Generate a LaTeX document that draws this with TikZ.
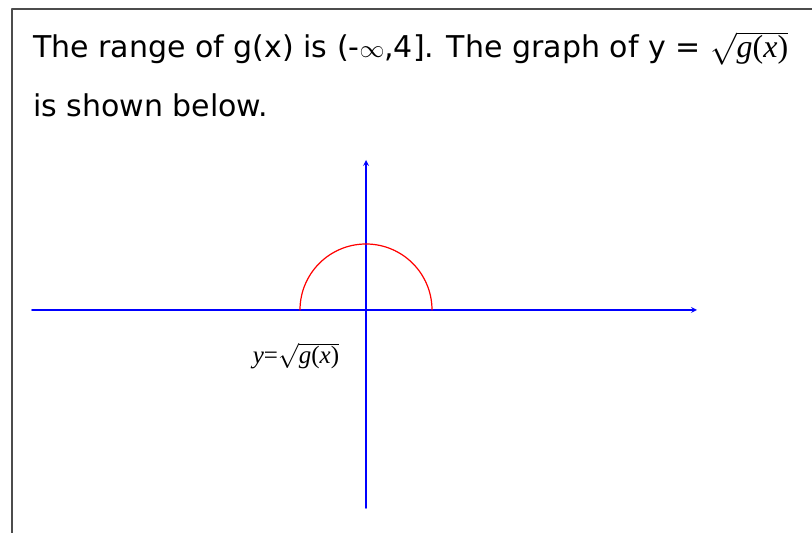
\documentclass[tikz,border=0pt]{standalone}
\usepackage{fontspec}
\usepackage{graphicx}
\setmainfont{DejaVu Sans}
\newfontfamily\labelfont{Liberation Serif}
\newcommand{\sqg}[1]{\scalebox{#1}{\normalsize$\sqrt{\mbox{\labelfont\itshape g\upshape(\itshape x\upshape)}}$}}
\begin{document}
\begin{tikzpicture}[x=1pt, y=1pt, line join=round, line cap=round, >=stealth]
	\useasboundingbox (0,0) rectangle (812,533);
	% frame
	\draw[line width=1.5pt, black!70] (12,-10) -- (12,524) -- (822,524);
	% text
	\node[anchor=base west, inner sep=0pt, font=\fontsize{30}{34}\selectfont] (line1) at (33,475) {The range of g(x) is (-$\infty$,4]. The graph of y = \sqg{3.2}};
	\node[anchor=base west, inner sep=0pt, font=\fontsize{30}{34}\selectfont] (line2) at (33,416) {is shown below.};
	% axes
	\coordinate (O) at (366,223);
	\coordinate (xl) at (32,223);
	\coordinate (xr) at (697,223);
	\coordinate (yb) at (366,25);
	\coordinate (yt) at (366,373);
	\draw[blue, line width=1.6pt, ->] (xl) -- (xr);
	\draw[blue, line width=1.6pt, ->] (yb) -- (yt);
	% graph
	\draw[red, line width=1.2pt] (300,223) arc (180:0:66);
	\node[inner sep=0pt] (lbl) at (296,177) {\scalebox{2.5}{\labelfont\itshape y\upshape=}\sqg{2.5}};
\end{tikzpicture}
\end{document}
